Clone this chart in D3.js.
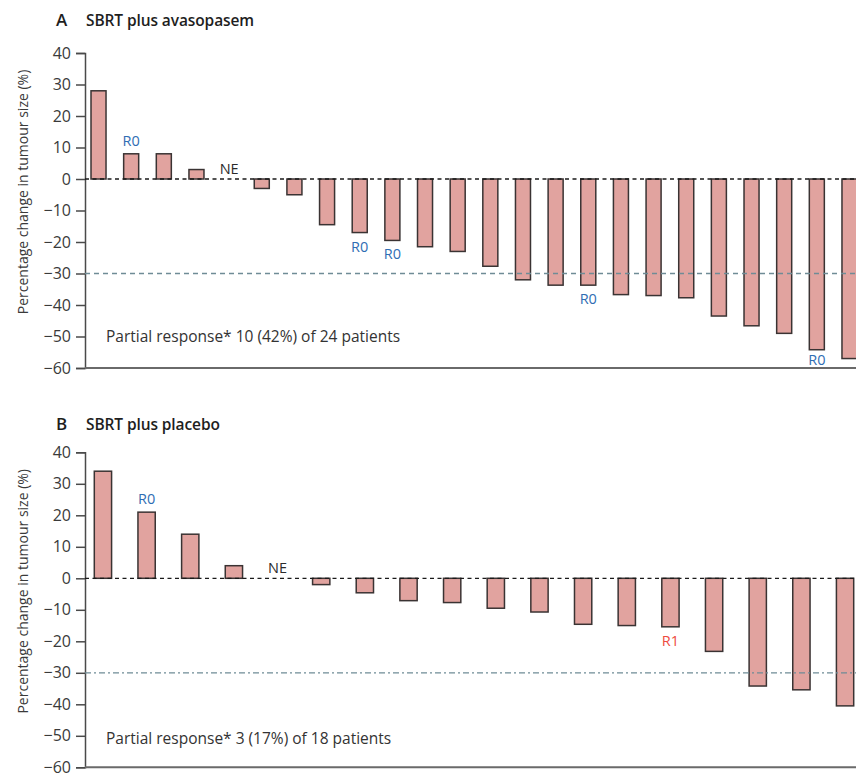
<!DOCTYPE html>
<html>
<head>
<meta charset="utf-8">
<script src="https://cdn.jsdelivr.net/npm/d3@7/dist/d3.min.js"></script>
<style>
  html, body { margin: 0; padding: 0; background: #ffffff; }
  svg { display: block; }
  text { font-family: "Open Sans", "Noto Sans", sans-serif; }
</style>
</head>
<body>
<svg id="chart" width="856" height="773"></svg>
<script>
// Percentage change in tumour size per patient, sorted from largest increase to largest decrease.
// null = not evaluable (no bar drawn).
const avaValues = [28, 8, 8, 3, null, -3, -5, -14.5, -17, -19.5, -21.5, -23, -27.7, -32, -33.7, -33.7,
                   -36.7, -37, -37.7, -43.5, -46.6, -49, -54.2, -57];
const avaNotes  = ["", "R0", "", "", "NE", "", "", "", "R0", "R0", "", "", "", "", "", "R0",
                   "", "", "", "", "", "", "R0", ""];

const plaValues = [34, 21, 14, 4, null, -2, -4.6, -7.1, -7.7, -9.5, -10.7, -14.6, -15, -15.4,
                   -23.2, -34.2, -35.4, -40.5];
const plaNotes  = ["", "R0", "", "", "NE", "", "", "", "", "", "", "", "", "R1", "", "", "", ""];

const yTicks = [40, 30, 20, 10, 0, -10, -20, -30, -40, -50, -60];
const yDomain = [-60, 40];
const responseThreshold = -30;

const panels = [
  { letter: "A", title: "SBRT plus avasopasem", values: avaValues, notes: avaNotes,
    summary: "Partial response* 10 (42%) of 24 patients",
    top: 53, bottom: 368, titleY: 26, thresholdDash: "5,4", summaryY: 342,
    padInner: 0.54, padOuter: 0.184 },
  { letter: "B", title: "SBRT plus placebo", values: plaValues, notes: plaNotes,
    summary: "Partial response* 3 (17%) of 18 patients",
    top: 452.3, bottom: 767.3, titleY: 430, thresholdDash: "6,3,2,3", summaryY: 744,
    padInner: 0.604, padOuter: 0.213 }
];

const noteColor = { "R0": "#2f6db3", "R1": "#ee4a3f", "NE": "#2b2b2b" };

const svg = d3.select("#chart");
const axisX = 85;
const rangeEnd = 863;

panels.forEach(p => {
  const g = svg.append("g");

  const x = d3.scaleBand()
    .domain(d3.range(p.values.length))
    .range([axisX, rangeEnd])
    .paddingInner(p.padInner)
    .paddingOuter(p.padOuter);

  const y = d3.scaleLinear().domain(yDomain).range([p.bottom, p.top]);

  // Panel heading
  const title = g.append("text")
    .attr("x", 56).attr("y", p.titleY)
    .attr("font-size", 15.5).attr("font-weight", 600).attr("fill", "#1e1e1e");
  title.append("tspan").attr("font-size", 17).text(p.letter);
  title.append("tspan").attr("x", 86).attr("letter-spacing", -0.1).text(p.title);

  // Y axis
  const yAxis = g.append("g")
    .attr("transform", `translate(${axisX},0)`)
    .call(d3.axisLeft(y).tickValues(yTicks).tickSize(9).tickPadding(5).tickFormat(d3.format("d")));
  yAxis.select(".domain").attr("stroke", "#4a4a4a").attr("stroke-width", 1.5);
  yAxis.selectAll(".tick line").attr("stroke", "#4a4a4a").attr("stroke-width", 1.5);
  yAxis.selectAll(".tick text")
    .attr("font-size", 16).attr("fill", "#3a3a3a")
    .attr("font-family", "\"Open Sans\", sans-serif");

  // Y axis title
  g.append("text")
    .attr("transform", `translate(28,${(p.top + p.bottom) / 2 - 18.5}) rotate(-90)`)
    .attr("text-anchor", "middle")
    .attr("font-size", 14).attr("fill", "#3a3a3a")
    .text("Percentage change in tumour size (%)");

  // Bottom baseline
  g.append("line")
    .attr("x1", axisX).attr("x2", 856)
    .attr("y1", y(yDomain[0])).attr("y2", y(yDomain[0]))
    .attr("stroke", "#6a6a6a").attr("stroke-width", 2);

  // Bars
  const bars = p.values.map((v, i) => ({ i, v })).filter(d => d.v !== null);
  g.selectAll("rect.bar").data(bars).join("rect")
    .attr("class", "bar")
    .attr("x", d => x(d.i))
    .attr("width", x.bandwidth())
    .attr("y", d => y(Math.max(0, d.v)))
    .attr("height", d => Math.abs(y(d.v) - y(0)))
    .attr("fill", "#e1a39f")
    .attr("stroke", "#3a3333")
    .attr("stroke-width", 1.5);

  // Zero reference line
  g.append("line")
    .attr("x1", axisX).attr("x2", 856)
    .attr("y1", y(0)).attr("y2", y(0))
    .attr("stroke", "#1a1a1a").attr("stroke-width", 1.3)
    .attr("stroke-dasharray", "4,3.5");

  // Partial response threshold
  g.append("line")
    .attr("x1", axisX).attr("x2", 856)
    .attr("y1", y(responseThreshold)).attr("y2", y(responseThreshold))
    .attr("stroke", "#6f8c96").attr("stroke-width", 1.3)
    .attr("stroke-dasharray", p.thresholdDash);

  // Per-patient notes (kept inside the plotting area)
  const notes = p.values.map((v, i) => ({ i, v, t: p.notes[i] })).filter(d => d.t);
  g.selectAll("text.note").data(notes).join("text")
    .attr("class", "note")
    .attr("x", d => x(d.i) + x.bandwidth() / 2)
    .attr("y", d => {
      if (d.v === null) return y(0) - 5;
      return d.v >= 0 ? y(d.v) - 8 : Math.min(y(d.v) + 19, y(yDomain[0]) - 3);
    })
    .attr("text-anchor", "middle")
    .attr("font-size", 14.5)
    .attr("fill", d => noteColor[d.t])
    .text(d => d.t);

  // Summary
  g.append("text")
    .attr("x", 106).attr("y", p.summaryY)
    .attr("font-size", 15.5).attr("fill", "#333333")
    .text(p.summary);
});
</script>
</body>
</html>
